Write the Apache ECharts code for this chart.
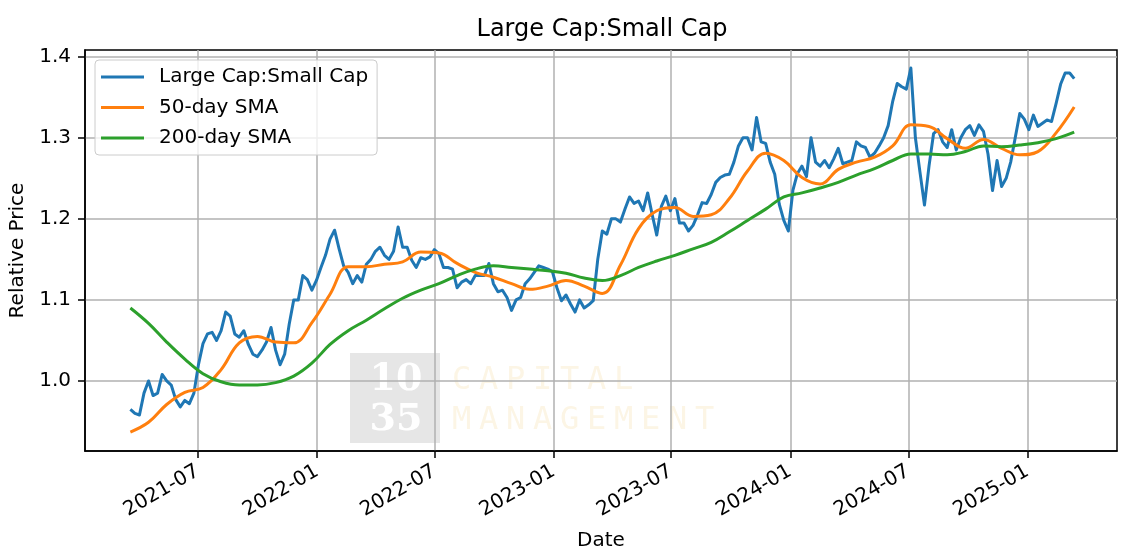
<!DOCTYPE html>
<html>
<head>
<meta charset="utf-8">
<title>Large Cap:Small Cap</title>
<script src="https://cdn.jsdelivr.net/npm/echarts@6/dist/echarts.min.js"></script>
<style>
  html, body { margin: 0; background: #fff; }
  #chart { width: 1130px; height: 558px; }
</style>
</head>
<body>
<div id="chart"></div>
<script>
// weekly readings of the ratio, first one on startDate
var startDate = '2021-03-19';
var stepDays = 7;
var ratio = [
  0.965, 0.960, 0.958, 0.985, 1.000, 0.982, 0.985, 1.008, 1.000, 0.995, 0.977, 0.968, 0.976, 0.972, 0.985,
  1.020, 1.046, 1.058, 1.060, 1.050, 1.062, 1.085, 1.080, 1.058, 1.054, 1.062, 1.045, 1.033, 1.030, 1.038,
  1.048, 1.066, 1.038, 1.020, 1.033, 1.070, 1.100, 1.100, 1.130, 1.125, 1.112, 1.124, 1.140, 1.155,
  1.175, 1.186, 1.163, 1.142, 1.134, 1.120, 1.130, 1.122, 1.144, 1.150, 1.160, 1.165, 1.155, 1.150, 1.160,
  1.190, 1.165, 1.165, 1.149, 1.140, 1.152, 1.150, 1.153, 1.162, 1.157, 1.140, 1.140, 1.138, 1.115, 1.122,
  1.125, 1.120, 1.130, 1.130, 1.130, 1.145, 1.120, 1.110, 1.112, 1.103, 1.087, 1.100,
  1.103, 1.120, 1.126, 1.134, 1.142, 1.140, 1.138, 1.135, 1.115, 1.099, 1.106, 1.095, 1.085, 1.100, 1.090,
  1.094, 1.099, 1.150, 1.185, 1.181, 1.200, 1.200, 1.196, 1.212, 1.227, 1.219, 1.222, 1.210, 1.232, 1.205,
  1.180, 1.215, 1.228, 1.210, 1.225, 1.195, 1.195, 1.185, 1.192, 1.205, 1.220, 1.219, 1.230,
  1.245, 1.251, 1.254, 1.255, 1.270, 1.290, 1.300, 1.300, 1.285, 1.325, 1.295, 1.293, 1.270, 1.255, 1.218,
  1.198, 1.185, 1.235, 1.256, 1.265, 1.252, 1.300, 1.270, 1.265, 1.272, 1.263, 1.274, 1.287, 1.268, 1.270,
  1.272, 1.295, 1.290, 1.288, 1.276, 1.281, 1.290, 1.300, 1.315, 1.345, 1.367, 1.363,
  1.360, 1.386, 1.300, 1.258, 1.217, 1.265, 1.305, 1.310, 1.295, 1.288, 1.310, 1.285, 1.300, 1.310, 1.315,
  1.303, 1.316, 1.308, 1.280, 1.235, 1.272, 1.240, 1.250, 1.270, 1.300, 1.330, 1.323, 1.310, 1.328, 1.314,
  1.318, 1.322, 1.320, 1.342, 1.366, 1.380, 1.380, 1.373
];

// moving averages, read every 4th week
var smaEvery = 4;
var sma50 = [
  0.937, 0.949, 0.971, 0.986, 0.992, 1.014, 1.047, 1.055, 1.048, 1.047, 1.072, 1.107, 1.141, 1.141,
  1.144, 1.147, 1.159, 1.158, 1.145, 1.134, 1.128, 1.120, 1.113, 1.117, 1.124, 1.117, 1.108, 1.143,
  1.188, 1.210, 1.214, 1.203, 1.205, 1.225, 1.259, 1.281, 1.272, 1.251, 1.243, 1.261, 1.270, 1.276,
  1.290, 1.316, 1.314, 1.299, 1.287, 1.298, 1.287, 1.279, 1.283, 1.306, 1.338
];
var sma200 = [
  1.090, 1.071, 1.048, 1.027, 1.009, 0.999, 0.995, 0.995, 0.998, 1.006, 1.022, 1.045, 1.062, 1.075,
  1.089, 1.102, 1.112, 1.120, 1.130, 1.138, 1.142, 1.140, 1.138, 1.136, 1.133, 1.127, 1.124, 1.130,
  1.140, 1.148, 1.155, 1.163, 1.171, 1.184, 1.198, 1.212, 1.227, 1.232, 1.238, 1.245, 1.254, 1.262,
  1.272, 1.280, 1.280, 1.279, 1.283, 1.290, 1.289, 1.291, 1.294, 1.299, 1.307
];

var xTicks = ['2021-07-01', '2022-01-01', '2022-07-01', '2023-01-01', '2023-07-01', '2024-01-01', '2024-07-01', '2025-01-01'];
var yTicks = [1.0, 1.1, 1.2, 1.3, 1.4];

var DAY = 86400000;
function toTime(s) { return new Date(s + 'T00:00:00').getTime(); }
var t0 = toTime(startDate);

var ratioData = ratio.map(function (v, i) { return [t0 + i * stepDays * DAY, v]; });
var sma50Data = sma50.map(function (v, i) { return [t0 + i * smaEvery * stepDays * DAY, v]; });
var sma200Data = sma200.map(function (v, i) { return [t0 + i * smaEvery * stepDays * DAY, v]; });
var xTickTimes = xTicks.map(toTime);

var font = '"DejaVu Sans", sans-serif';
var gridLine = { show: true, lineStyle: { color: '#b0b0b0', width: 1.5 } };
var spine = { show: true, lineStyle: { color: '#000', width: 1.5 } };

// watermark in the lower middle of the plot
var mark = [
  { type: 'rect', shape: { x: 350, y: 353, width: 90, height: 90 }, style: { fill: '#e6e6e6' }, z: -5 },
  { type: 'text', x: 396, y: 380, style: { text: '10', font: 'bold 38px "DejaVu Serif"', fill: '#fff', align: 'center', verticalAlign: 'middle' }, z: -4 },
  { type: 'text', x: 396, y: 420, style: { text: '35', font: 'bold 38px "DejaVu Serif"', fill: '#fff', align: 'center', verticalAlign: 'middle' }, z: -4 }
];
[['CAPITAL', 381], ['MANAGEMENT', 421]].forEach(function (w) {
  w[0].split('').forEach(function (ch, i) {
    mark.push({ type: 'text', x: 452 + i * 27, y: w[1], z: -4,
      style: { text: ch, font: '32px "DejaVu Sans Mono"', fill: '#fcf5e5', align: 'left', verticalAlign: 'middle' } });
  });
});

var chart = echarts.init(document.getElementById('chart'));
chart.setOption({
  animation: false,
  backgroundColor: '#fff',
  title: {
    text: 'Large Cap:Small Cap',
    left: 597, top: 13, textAlign: 'center',
    textStyle: { fontFamily: font, fontSize: 24, fontWeight: 'normal', color: '#000' }
  },
  legend: {
    orient: 'vertical', left: 95, top: 60,
    padding: [7, 9, 7, 6], itemGap: 10.5,
    icon: 'rect', itemWidth: 43, itemHeight: 3,
    backgroundColor: 'rgba(255,255,255,0.8)', borderColor: '#cccccc', borderWidth: 1, borderRadius: 4,
    textStyle: { fontFamily: font, fontSize: 20, color: '#000', padding: [0, 0, 0, 10] }
  },
  graphic: mark,
  grid: { left: 84, right: 13, top: 50, bottom: 107, show: true, borderColor: '#000', borderWidth: 1.5 },
  xAxis: {
    type: 'value',
    min: toTime('2021-01-08'), max: toTime('2025-05-19'),
    name: 'Date', nameLocation: 'middle', nameGap: 80,
    nameTextStyle: { fontFamily: font, fontSize: 20, color: '#000' },
    axisLine: spine,
    axisTick: { show: true, customValues: xTickTimes, length: 7, lineStyle: { color: '#000', width: 1.5 } },
    axisLabel: {
      customValues: xTickTimes, rotate: 30, margin: 19,
      fontFamily: font, fontSize: 20, color: '#000',
      formatter: function (v) {
        var d = new Date(v);
        var m = d.getMonth() + 1;
        return d.getFullYear() + '-' + (m < 10 ? '0' + m : m);
      }
    },
    splitLine: gridLine
  },
  yAxis: {
    type: 'value',
    min: 0.9136, max: 1.4083,
    name: 'Relative Price', nameLocation: 'middle', nameGap: 57, nameRotate: 90,
    nameTextStyle: { fontFamily: font, fontSize: 20, color: '#000' },
    axisLine: spine,
    axisTick: { show: true, customValues: yTicks, length: 7, lineStyle: { color: '#000', width: 1.5 } },
    axisLabel: {
      customValues: yTicks, margin: 14,
      fontFamily: font, fontSize: 20, color: '#000',
      formatter: function (v) { return v.toFixed(1); }
    },
    splitLine: gridLine
  },
  series: [
    { name: 'Large Cap:Small Cap', type: 'line', data: ratioData, symbol: 'none',
      itemStyle: { color: '#1f77b4' }, lineStyle: { color: '#1f77b4', width: 3, join: 'round' } },
    { name: '50-day SMA', type: 'line', data: sma50Data, symbol: 'none', smooth: 0.4,
      itemStyle: { color: '#ff7f0e' }, lineStyle: { color: '#ff7f0e', width: 3 } },
    { name: '200-day SMA', type: 'line', data: sma200Data, symbol: 'none', smooth: 0.4,
      itemStyle: { color: '#2ca02c' }, lineStyle: { color: '#2ca02c', width: 3 } }
  ]
});
</script>
</body>
</html>
